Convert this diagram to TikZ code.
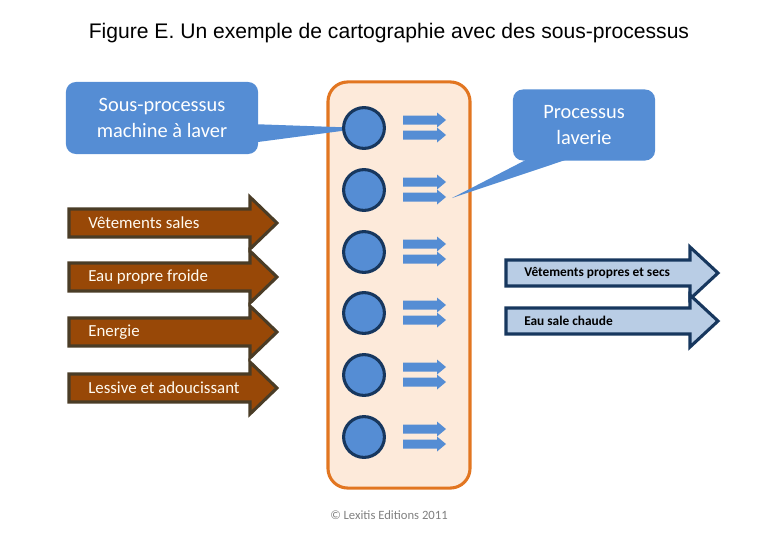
\documentclass[tikz,border=0pt]{standalone}
\usepackage{fontspec}
\setmainfont{Carlito}
\newfontfamily\titlefont{Liberation Sans}
\usepackage{xcolor}
\usetikzlibrary{calc}
\definecolor{callblue}{RGB}{85,141,212}
\definecolor{navy}{RGB}{23,55,94}
\definecolor{peach}{RGB}{253,234,218}
\definecolor{orangeline}{RGB}{226,118,33}
\definecolor{brownfill}{RGB}{152,72,7}
\definecolor{browndraw}{RGB}{74,60,38}
\definecolor{lightblue}{RGB}{185,205,229}
\definecolor{cream}{RGB}{255,250,240}
\pgfdeclarelayer{box}
\pgfdeclarelayer{tails}
\pgfsetlayers{box,tails,main}

\begin{document}
\begin{tikzpicture}[x=0.025cm,y=-0.025cm,
  callout/.style={fill=callblue,rounded corners=7pt,text=white,align=center,inner sep=0pt,font=\fontsize{14.5}{18}\selectfont},
  procdot/.style={circle,draw=navy,line width=2.2pt,fill=callblue,minimum size=1.02cm,inner sep=0pt},
  inarrow/.style={fill=brownfill,draw=browndraw,line width=2.2pt},
  outarrow/.style={fill=lightblue,draw=navy,line width=2.2pt},
  intext/.style={anchor=west,text=cream,font=\fontsize{12}{14}\selectfont,inner sep=0pt},
  outtext/.style={anchor=west,font=\fontsize{9.5}{11}\selectfont\bfseries,inner sep=0pt}]
\useasboundingbox (0,0) rectangle (780,540);

\node[font=\titlefont\fontsize{15}{18}\selectfont] (titre) at (389,33) {Figure E. Un exemple de cartographie avec des sous-processus};

% the process box
\begin{pgfonlayer}{box}
\node[draw=orangeline,fill=peach,line width=2.2pt,rounded corners=14pt,minimum width=3.55cm,minimum height=10.15cm] (boite) at (399,285) {};
\end{pgfonlayer}

% sub-processes and their double arrows
\foreach \y [count=\i] in {128,190,252,313,375,437}{
  \node[procdot] (c\i) at (364,\y) {};
  \foreach \d in {-8,7} % upper and lower arrow
    \fill[callblue] (403,\y+\d-4.5) -- (437,\y+\d-4.5) -- (437,\y+\d-7.5) -- (446,\y+\d) -- (437,\y+\d+7.5) -- (437,\y+\d+4.5) -- (403,\y+\d+4.5) -- cycle;
}

% callouts
\node[callout,minimum width=4.8cm,minimum height=1.8cm] (sousproc) at (162,118) {Sous-processus\\machine à laver};
\node[callout,minimum width=3.55cm,minimum height=1.775cm] (proc) at (584,125) {Processus\\laverie};
\coordinate (pointe) at (452,198);
\begin{pgfonlayer}{tails}
\fill[callblue] ($(sousproc.east)+(-8,6)$) -- (c1.center) -- ($(sousproc.east)+(-8,25)$) -- cycle;
\fill[callblue] ($(proc.south)+(-54,-3)$) -- (pointe) -- ($(proc.south)+(-12,-3)$) -- cycle;
\end{pgfonlayer}

% inputs
\foreach \y/\txt [count=\i] in {223/Vêtements sales,277/Eau propre froide,332/Energie,388/Lessive et adoucissant}{
  \draw[inarrow] (69,\y-14) -- (250,\y-14) -- (250,\y-26) -- (277,\y) -- (250,\y+26) -- (250,\y+14) -- (69,\y+14) -- cycle;
  \node[intext] (in\i) at (88,\y) {\txt};
}

% outputs
\foreach \y/\txt [count=\i] in {273/Vêtements propres et secs,321/Eau sale chaude}{
  \draw[outarrow] (506,\y-13) -- (690,\y-13) -- (690,\y-26) -- (718,\y) -- (690,\y+26) -- (690,\y+13) -- (506,\y+13) -- cycle;
  \node[outtext] (out\i) at (524,\y) {\txt};
}

\node[text=gray,font=\fontsize{9}{11}\selectfont] (copy) at (389,515) {© Lexitis Editions 2011};
\end{tikzpicture}
\end{document}
